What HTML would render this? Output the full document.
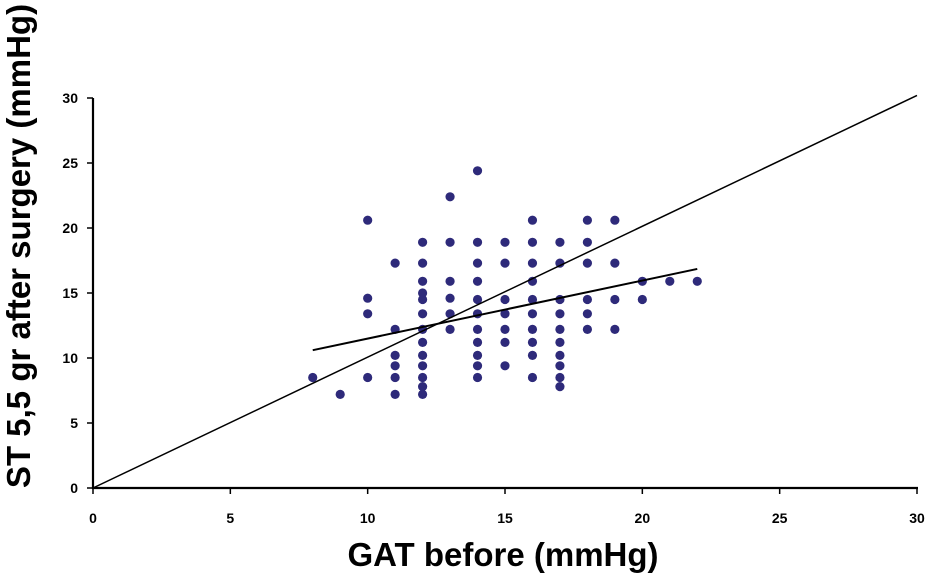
<!DOCTYPE html>
<html><head><meta charset="utf-8"><style>
body{margin:0;background:#fff;width:933px;height:573px;overflow:hidden}
svg{display:block;font-family:"Liberation Sans",Arial,sans-serif}
</style></head><body>
<svg id="chart" width="933" height="573"></svg>
<script>
const xTicks=[0,5,10,15,20,25,30];
const yTicks=[0,5,10,15,20,25,30];
const ptsX=[8,9,10,10,10,10,11,11,11,11,11,11,
12,12,12,12,12,12,12,12,12,12,12,12,12,
13,13,13,13,13,13,
14,14,14,14,14,14,14,14,14,14,14,
15,15,15,15,15,15,15,
16,16,16,16,16,16,16,16,16,16,
17,17,17,17,17,17,17,17,17,17,
18,18,18,18,18,18,
19,19,19,19,20,20,21,22];
const ptsY=[8.5,7.2,20.6,14.6,13.4,8.5,17.3,12.2,10.2,9.4,8.5,7.2,
18.9,17.3,15.9,15.0,14.5,13.4,12.2,11.2,10.2,9.4,8.5,7.8,7.2,
22.4,18.9,15.9,14.6,13.4,12.2,
24.4,18.9,17.3,15.9,14.5,13.4,12.2,11.2,10.2,9.4,8.5,
18.9,17.3,14.5,13.4,12.2,11.2,9.4,
20.6,18.9,17.3,15.9,14.5,13.4,12.2,11.2,10.2,8.5,
18.9,17.3,14.5,13.4,12.2,11.2,10.2,9.4,8.5,7.8,
20.6,18.9,17.3,14.5,13.4,12.2,
20.6,17.3,14.5,12.2,15.9,14.5,15.9,15.9];
const identityLine=[[0,0],[30,30.2]];
const regressionLine=[[8,10.6],[22,16.85]];

const NS="http://www.w3.org/2000/svg";
const svg=document.getElementById('chart');
const X=v=>93+v*(824/30);
const Y=v=>488-v*13;
function mk(t,a){const e=document.createElementNS(NS,t);for(const k in a)e.setAttribute(k,a[k]);svg.appendChild(e);return e;}
let ax=mk('line',{x1:93,y1:98,x2:93,y2:489,stroke:'#000','stroke-width':2.2});


ax=mk('line',{x1:92,y1:488,x2:918,y2:488,stroke:'#000','stroke-width':2.2});


xTicks.forEach(v=>{
 const t=mk('line',{x1:X(v),y1:488,x2:X(v),y2:494,stroke:'#000','stroke-width':1.5});
 
 
 const l=mk('text',{x:X(v),y:523,'text-anchor':'middle','font-size':14,'font-weight':'bold'});
 l.textContent=v;
 
 
});
yTicks.forEach(v=>{
 const t=mk('line',{x1:87,y1:Y(v),x2:93,y2:Y(v),stroke:'#000','stroke-width':1.5});
 
 
 const l=mk('text',{x:78,y:Y(v)+5,'text-anchor':'end','font-size':14,'font-weight':'bold'});
 l.textContent=v;
 
 
});
ptsX.forEach((v,i)=>{
 const c=mk('circle',{cx:X(v),cy:Y(ptsY[i]),r:4.6,fill:'#2e2a7a'});
 
 
});
let ln=mk('line',{x1:X(identityLine[0][0]),y1:Y(identityLine[0][1]),x2:X(identityLine[1][0]),y2:Y(identityLine[1][1]),stroke:'#000','stroke-width':1.5});


ln=mk('line',{x1:X(regressionLine[0][0]),y1:Y(regressionLine[0][1]),x2:X(regressionLine[1][0]),y2:Y(regressionLine[1][1]),stroke:'#000','stroke-width':2});


let tt=mk('text',{x:503,y:566,'text-anchor':'middle','font-size':33,'font-weight':'bold'});
tt.textContent='GAT before (mmHg)';


tt=mk('text',{x:0,y:0,'text-anchor':'middle','font-size':33,'font-weight':'bold',transform:'translate(30,246) rotate(-90)'});
tt.textContent='ST 5,5 gr after surgery (mmHg)';


</script>
</body></html>
